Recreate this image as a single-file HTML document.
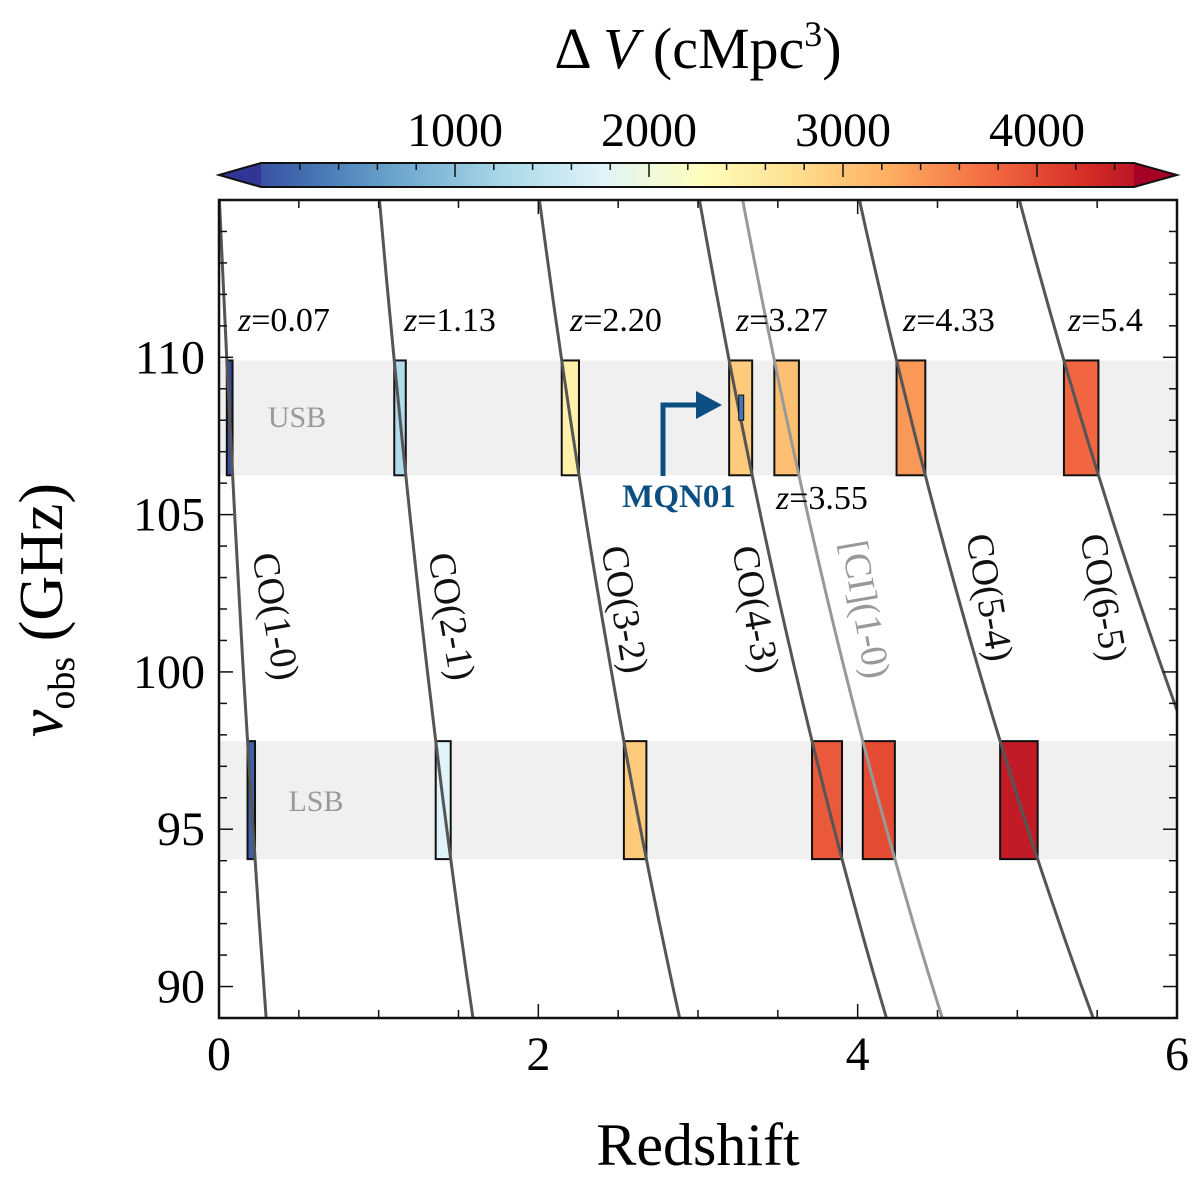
<!DOCTYPE html>
<html><head><meta charset="utf-8"><style>
html,body{margin:0;padding:0;background:#fff;overflow:hidden}
svg{display:block}
text{font-family:"Liberation Serif","DejaVu Serif",serif}
</style></head><body>
<svg id="c" width="1200" height="1179" xmlns="http://www.w3.org/2000/svg">
<defs>
<linearGradient id="cmap" x1="0" x2="1" y1="0" y2="0">
<stop offset="0" stop-color="#313695"/><stop offset="0.1" stop-color="#4575b4"/><stop offset="0.2" stop-color="#74add1"/><stop offset="0.3" stop-color="#abd9e9"/><stop offset="0.4" stop-color="#e0f3f8"/><stop offset="0.5" stop-color="#ffffbf"/><stop offset="0.6" stop-color="#fee090"/><stop offset="0.7" stop-color="#fdae61"/><stop offset="0.8" stop-color="#f46d43"/><stop offset="0.9" stop-color="#d73027"/><stop offset="1" stop-color="#a50026"/>
</linearGradient>
<clipPath id="pc"><rect x="219" y="200" width="958" height="818"/></clipPath>
</defs>
</svg>
<script>
const lineNames=["CO(1-0)","CO(2-1)","CO(3-2)","CO(4-3)","[CI](1-0)","CO(5-4)","CO(6-5)"];
const restFreq=[115.27,230.54,345.80,461.04,492.16,576.27,691.47];
const usbBand=[106.25,109.9];
const lsbBand=[94.05,97.8];
const usbVol=[150,1400,2450,2900,3000,3300,3650];
const lsbVol=[300,1800,2900,3750,3850,4250,null];
const zLabels=["z=0.07","z=1.13","z=2.20","z=3.27","z=4.33","z=5.4"];
const xTicks=[0,2,4,6];
const yTicks=[90,95,100,105,110];
const cbTicks=[1000,2000,3000,4000];
const svg=document.getElementById('c');const NS="http://www.w3.org/2000/svg";
const X0=219,X1=1177,Y0=200,Y1=1018,zmin=0,zmax=6,fmin=89,fmax=115;
const xs=z=>X0+(z-zmin)/(zmax-zmin)*(X1-X0);
const ys=f=>Y1-(f-fmin)/(fmax-fmin)*(Y1-Y0);
const cbL=261,cbR=1134,vmin=0,vmax=4500;
const cbx=v=>cbL+(v-vmin)/(vmax-vmin)*(cbR-cbL);
const stops=[[49,54,149],[69,117,180],[116,173,209],[171,217,233],[224,243,248],[255,255,191],[254,224,144],[253,174,97],[244,109,67],[215,48,39],[165,0,38]];
function cmap(v){let t=Math.max(0,Math.min(1,(v-vmin)/(vmax-vmin)))*10;let i=Math.min(9,Math.floor(t)),f=t-i;const a=stops[i],b=stops[i+1];return `rgb(${a.map((c,k)=>Math.round(c+(b[k]-c)*f)).join(',')})`;}
function el(tag,attrs,parent){const e=document.createElementNS(NS,tag);for(const k in attrs)e.setAttribute(k,attrs[k]);(parent||svg).appendChild(e);return e;}
const plot=el('g',{'clip-path':'url(#pc)'});


[[usbBand,'usb-band'],[lsbBand,'lsb-band']].forEach(([b,n])=>{const r=el('rect',{x:X0,y:ys(b[1]),width:X1-X0,height:ys(b[0])-ys(b[1]),fill:'#f0f0f0'},plot);

});
const bl1=el('text',{x:297,y:427,'font-size':30,fill:'#999','text-anchor':'middle'});bl1.textContent='USB';


const bl2=el('text',{x:316,y:811,'font-size':30,fill:'#999','text-anchor':'middle'});bl2.textContent='LSB';


function box(i,band,v,name){if(v==null)return;const z1=restFreq[i]/band[1]-1,z2=restFreq[i]/band[0]-1;const r=el('rect',{x:xs(z1),y:ys(band[1]),width:xs(z2)-xs(z1),height:ys(band[0])-ys(band[1]),fill:cmap(v),stroke:'#111','stroke-width':2},plot);

}
restFreq.forEach((r,i)=>{box(i,usbBand,usbVol[i],'usb-box-'+i);box(i,lsbBand,lsbVol[i],'lsb-box-'+i);});
restFreq.forEach((r,i)=>{let d='';for(let k=0;k<=120;k++){const z=k*6/120;d+=(k?'L':'M')+xs(z).toFixed(1)+','+ys(r/(1+z)).toFixed(1);}
const p=el('path',{d,fill:'none',stroke:i==4?'#999':'#555','stroke-width':3},plot);

});
const mq=el('rect',{x:xs(3.255),y:ys(108.8),width:5,height:ys(108.0)-ys(108.8),fill:'#4575b4',stroke:'#111','stroke-width':1},plot);


const ar=el('path',{d:'M663,476 L663,405 L700,405',fill:'none',stroke:'#0b4f82','stroke-width':5});


const ah=el('path',{d:'M696,391 L722,405 L696,419 Z',fill:'#0b4f82'});


const mt=el('text',{x:679,y:507,'font-size':33,'font-weight':'bold',fill:'#0b4f82','text-anchor':'middle'});mt.textContent='MQN01';


const zx=[238,404,570,736,903,1068];
zLabels.forEach((s,i)=>{const t=el('text',{x:zx[i],y:331,'font-size':34});t.innerHTML='<tspan font-style="italic">z</tspan>'+s.slice(1);

});
const z2=el('text',{x:776,y:509,'font-size':34});z2.innerHTML='<tspan font-style="italic">z</tspan>=3.55';


const lp=[[272,617],[448,617],[621,610],[752,610],[862,610],[986,598],[1100,598]];
lineNames.forEach((n,i)=>{const t=el('text',{x:lp[i][0],y:lp[i][1],'font-size':38,'text-anchor':'middle','dominant-baseline':'middle',fill:i==4?'#999':'#111',transform:`rotate(80 ${lp[i][0]} ${lp[i][1]})`});t.textContent=n;

});
const fr=el('rect',{x:X0,y:Y0,width:X1-X0,height:Y1-Y0,fill:'none',stroke:'#111','stroke-width':2.5});


for(let z=0;z<=6.001;z+=0.5){const maj=Math.abs(z%2)<1e-6,L=maj?14:8,x=xs(z);el('line',{x1:x,x2:x,y1:Y1,y2:Y1-L,stroke:'#111','stroke-width':1.5});el('line',{x1:x,x2:x,y1:Y0,y2:Y0+L,stroke:'#111','stroke-width':1.5});}
for(let f=90;f<=115;f++){const maj=f%5==0,L=maj?14:8,y=ys(f);el('line',{x1:X0,x2:X0+L,y1:y,y2:y,stroke:'#111','stroke-width':1.5});el('line',{x1:X1,x2:X1-L,y1:y,y2:y,stroke:'#111','stroke-width':1.5});}
xTicks.forEach(v=>{const t=el('text',{x:xs(v),y:1070,'font-size':48,'text-anchor':'middle'});t.textContent=v;

});
yTicks.forEach(v=>{const t=el('text',{x:205,y:ys(v)+16,'font-size':48,'text-anchor':'end'});t.textContent=v;

});
const xt=el('text',{x:698,y:1165,'font-size':60,'text-anchor':'middle'});xt.textContent='Redshift';


const yt=el('text',{x:62,y:610,'font-size':62,'text-anchor':'middle',transform:'rotate(-90 62 610)'});yt.innerHTML='<tspan font-style="italic">ν</tspan><tspan font-size="38" dy="12">obs</tspan><tspan dy="-12"> (GHz)</tspan>';


el('path',{d:`M219,175 L${cbL},163 L${cbR},163 L1177,175 L${cbR},187 L${cbL},187 Z`,fill:'url(#cmap)'});
el('path',{d:`M219,175 L${cbL},163 L${cbL},187 Z`,fill:'#313695'});
el('path',{d:`M1177,175 L${cbR},163 L${cbR},187 Z`,fill:'#a50026'});
const cb=el('path',{d:`M219,175 L${cbL},163 L${cbR},163 L1177,175 L${cbR},187 L${cbL},187 Z`,fill:'none',stroke:'#111','stroke-width':2});


for(let v=200;v<4500;v+=200){const maj=v%1000==0;el('line',{x1:cbx(v),x2:cbx(v),y1:163,y2:163+(maj?14:7),stroke:'#111','stroke-width':1.5});}
cbTicks.forEach(v=>{const t=el('text',{x:cbx(v),y:146,'font-size':48,'text-anchor':'middle'});t.textContent=v;

});
const ct=el('text',{x:698,y:68,'font-size':58,'text-anchor':'middle'});ct.innerHTML='Δ <tspan font-style="italic">V</tspan> (cMpc<tspan font-size="36" dy="-22">3</tspan><tspan dy="22">)</tspan>';


</script>
</body></html>
